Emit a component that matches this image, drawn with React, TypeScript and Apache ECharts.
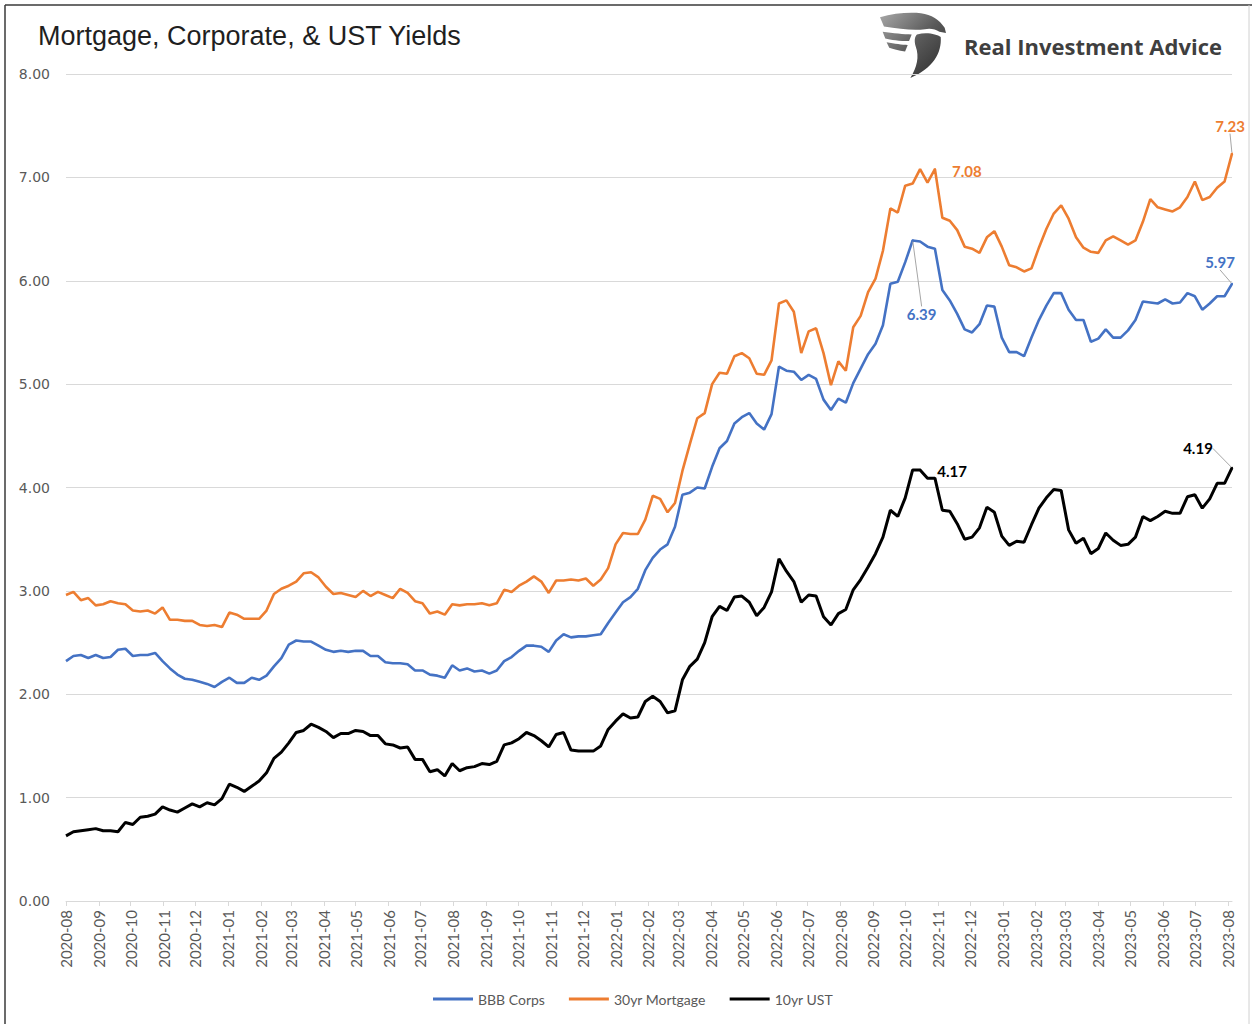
import React, { useEffect, useRef } from "react";
import * as echarts from "echarts";

// ---- Data (weekly, first week 2020-08-13) ----
const seriesNames = ["BBB Corps", "30yr Mortgage", "10yr UST"];

const bbbCorps = [
  2.32, 2.37, 2.38, 2.35, 2.38, 2.35, 2.36, 2.43, 2.44, 2.37, 2.38, 2.38, 2.40, 2.32, 2.25, 2.19, 2.15, 2.14, 2.12, 2.10,
  2.07, 2.12, 2.16, 2.11, 2.11, 2.16, 2.14, 2.18, 2.27, 2.35, 2.48, 2.52, 2.51, 2.51, 2.47, 2.43, 2.41, 2.42, 2.41, 2.42,
  2.42, 2.37, 2.37, 2.31, 2.30, 2.30, 2.29, 2.23, 2.23, 2.19, 2.18, 2.16, 2.28, 2.23, 2.25, 2.22, 2.23, 2.20, 2.23, 2.32,
  2.36, 2.42, 2.47, 2.47, 2.46, 2.41, 2.52, 2.58, 2.55, 2.56, 2.56, 2.57, 2.58, 2.69, 2.79, 2.89, 2.94, 3.02, 3.20, 3.32,
  3.40, 3.45, 3.62, 3.93, 3.95, 4.00, 3.99, 4.20, 4.38, 4.45, 4.62, 4.68, 4.72, 4.62, 4.56, 4.71, 5.17, 5.13, 5.12, 5.04,
  5.09, 5.05, 4.85, 4.75, 4.86, 4.82, 5.01, 5.15, 5.29, 5.39, 5.57, 5.97, 5.99, 6.18, 6.39, 6.38, 6.33, 6.31, 5.91, 5.81,
  5.68, 5.53, 5.50, 5.58, 5.76, 5.75, 5.45, 5.31, 5.31, 5.27, 5.45, 5.62, 5.76, 5.88, 5.88, 5.72, 5.62, 5.62, 5.41, 5.44,
  5.53, 5.45, 5.45, 5.52, 5.62, 5.80, 5.79, 5.78, 5.82, 5.78, 5.79, 5.88, 5.85, 5.72, 5.78, 5.85, 5.85, 5.97,
];

const mortgage30 = [
  2.96, 2.99, 2.91, 2.93, 2.86, 2.87, 2.90, 2.88, 2.87, 2.81, 2.80, 2.81, 2.78, 2.84, 2.72, 2.72, 2.71, 2.71, 2.67, 2.66,
  2.67, 2.65, 2.79, 2.77, 2.73, 2.73, 2.73, 2.81, 2.97, 3.02, 3.05, 3.09, 3.17, 3.18, 3.13, 3.04, 2.97, 2.98, 2.96, 2.94,
  3.00, 2.95, 2.99, 2.96, 2.93, 3.02, 2.98, 2.90, 2.88, 2.78, 2.80, 2.77, 2.87, 2.86, 2.87, 2.87, 2.88, 2.86, 2.88, 3.01,
  2.99, 3.05, 3.09, 3.14, 3.09, 2.98, 3.10, 3.10, 3.11, 3.10, 3.12, 3.05, 3.11, 3.22, 3.45, 3.56, 3.55, 3.55, 3.69, 3.92,
  3.89, 3.76, 3.85, 4.16, 4.42, 4.67, 4.72, 5.00, 5.11, 5.10, 5.27, 5.30, 5.25, 5.10, 5.09, 5.23, 5.78, 5.81, 5.70, 5.30,
  5.51, 5.54, 5.30, 4.99, 5.22, 5.13, 5.55, 5.66, 5.89, 6.02, 6.29, 6.70, 6.66, 6.92, 6.94, 7.08, 6.95, 7.08, 6.61, 6.58,
  6.49, 6.33, 6.31, 6.27, 6.42, 6.48, 6.33, 6.15, 6.13, 6.09, 6.12, 6.32, 6.50, 6.65, 6.73, 6.60, 6.42, 6.32, 6.28, 6.27,
  6.39, 6.43, 6.39, 6.35, 6.39, 6.57, 6.79, 6.71, 6.69, 6.67, 6.71, 6.81, 6.96, 6.78, 6.81, 6.90, 6.96, 7.23,
];

const ust10 = [
  0.63, 0.67, 0.68, 0.69, 0.70, 0.68, 0.68, 0.67, 0.76, 0.74, 0.81, 0.82, 0.84, 0.91, 0.88, 0.86, 0.90, 0.94, 0.91, 0.95,
  0.93, 0.99, 1.13, 1.10, 1.06, 1.11, 1.16, 1.24, 1.38, 1.44, 1.53, 1.63, 1.65, 1.71, 1.68, 1.64, 1.58, 1.62, 1.62, 1.65,
  1.64, 1.60, 1.60, 1.52, 1.51, 1.48, 1.49, 1.37, 1.37, 1.25, 1.27, 1.21, 1.33, 1.26, 1.29, 1.30, 1.33, 1.32, 1.35, 1.51,
  1.53, 1.57, 1.63, 1.60, 1.55, 1.49, 1.61, 1.63, 1.46, 1.45, 1.45, 1.45, 1.50, 1.66, 1.74, 1.81, 1.77, 1.78, 1.93, 1.98,
  1.93, 1.82, 1.84, 2.14, 2.27, 2.34, 2.50, 2.75, 2.85, 2.81, 2.94, 2.95, 2.89, 2.76, 2.84, 2.99, 3.31, 3.19, 3.09, 2.89,
  2.96, 2.95, 2.75, 2.67, 2.78, 2.82, 3.01, 3.11, 3.23, 3.36, 3.52, 3.78, 3.72, 3.90, 4.17, 4.17, 4.09, 4.09, 3.78, 3.77,
  3.65, 3.50, 3.52, 3.61, 3.81, 3.76, 3.53, 3.44, 3.48, 3.47, 3.64, 3.80, 3.90, 3.98, 3.97, 3.59, 3.46, 3.51, 3.36, 3.41,
  3.56, 3.49, 3.44, 3.45, 3.52, 3.72, 3.68, 3.72, 3.77, 3.75, 3.75, 3.91, 3.93, 3.80, 3.89, 4.04, 4.04, 4.19,
];

const yTicks = [0, 1, 2, 3, 4, 5, 6, 7, 8];
const monthTickCount = 37; // 2020-08 ... 2023-08

// x is measured in days since the first week (2020-08-13)
const DAY = 86400000;
const START_UTC = Date.UTC(2020, 7, 13);
const weekDays = bbbCorps.map((_, i) => 7 * i);
const monthTicks = Array.from({ length: monthTickCount }, (_, m) =>
  Math.round((Date.UTC(2020, 7 + m, 13) - START_UTC) / DAY)
);

const COLORS = { bbb: "#4472C4", mort: "#ED7D31", ust: "#000000" };

// value annotations: which series/point, label colour, offset of label centre from point
const annotations = [
  { data: mortgage30, index: 117, color: COLORS.mort, dx: 32, dy: 1, guide: false },
  { data: mortgage30, index: 157, color: COLORS.mort, dx: -2, dy: -28, guide: true },
  { data: bbbCorps, index: 114, color: COLORS.bbb, dx: 9, dy: 73, guide: true },
  { data: bbbCorps, index: 157, color: COLORS.bbb, dx: -12, dy: -22, guide: true },
  { data: ust10, index: 115, color: COLORS.ust, dx: 32, dy: 1, guide: false },
  { data: ust10, index: 157, color: COLORS.ust, dx: -34, dy: -20, guide: true },
];

const LOGO_PATH =
  "M0 8 C20 2 45 0 62 2 C78 4 90 12 98 24 L100 32 L90 30 C84 26 76 24 68 26 C52 28 30 26 6 22 Z " +
  "M4 30 C20 32 36 34 48 34 L44 44 C30 44 16 42 8 40 Z " +
  "M10 46 C22 48 34 50 42 50 L38 60 C28 58 20 56 14 54 Z " +
  "M56 34 C72 30 86 34 92 38 C94 62 80 86 46 100 C56 84 60 68 54 52 C52 44 52 38 56 34 Z";

let registered = false;
function ensureShape() {
  if (registered) return;
  echarts.graphic.registerShape("riaLogo", echarts.graphic.extendPath(LOGO_PATH, {}) as any);
  registered = true;
}

const fmtMonth = (days: number) => {
  const d = new Date(START_UTC + days * DAY);
  const m = d.getUTCMonth() + 1;
  return `${d.getUTCFullYear()}-${m < 10 ? "0" + m : m}`;
};

const LABEL_HALF_H = 9;

export default function App() {
  const ref = useRef<HTMLDivElement>(null);

  useEffect(() => {
    if (!ref.current) return;
    ensureShape();
    const chart = echarts.init(ref.current, undefined, { renderer: "svg" });

    const pair = (arr: number[]) => arr.map((v, i) => [weekDays[i], v]);

    const option: any = {
      animation: false,
      backgroundColor: "#ffffff",
      grid: { left: 66, right: 20, top: 74, bottom: 123, containLabel: false },
      xAxis: {
        type: "value",
        min: weekDays[0],
        max: weekDays[weekDays.length - 1],
        axisLine: { show: true, onZero: false, lineStyle: { color: "#D9D9D9", width: 1 } },
        axisTick: { show: true, length: 5, customValues: monthTicks, lineStyle: { color: "#D9D9D9" } },
        axisLabel: {
          customValues: monthTicks,
          rotate: 90,
          formatter: (v: number) => fmtMonth(v),
          fontFamily: "Lato",
          fontSize: 15,
          color: "#595959",
          margin: 9,
          hideOverlap: false,
          showMinLabel: true,
          showMaxLabel: true,
        },
        splitLine: { show: false },
      },
      yAxis: {
        type: "value",
        min: yTicks[0],
        max: yTicks[yTicks.length - 1],
        interval: 1,
        axisLine: { show: false },
        axisTick: { show: false },
        axisLabel: {
          formatter: (v: number) => v.toFixed(2),
          fontFamily: "DejaVu Sans",
          fontSize: 14,
          color: "#595959",
          margin: 16,
        },
        splitLine: { lineStyle: { color: "#D9D9D9", width: 1 } },
      },
      legend: {
        data: seriesNames,
        left: 428,
        top: 987,
        icon: "rect",
        itemWidth: 40,
        itemHeight: 3,
        itemGap: 24,
        textStyle: { fontFamily: "Lato", fontSize: 14, color: "#595959" },
      },
      series: [
        {
          name: seriesNames[0],
          type: "line",
          data: pair(bbbCorps),
          showSymbol: false,
          symbol: "none",
          lineStyle: { color: COLORS.bbb, width: 2.6 },
          itemStyle: { color: COLORS.bbb },
          z: 3,
        },
        {
          name: seriesNames[1],
          type: "line",
          data: pair(mortgage30),
          showSymbol: false,
          symbol: "none",
          lineStyle: { color: COLORS.mort, width: 2.6 },
          itemStyle: { color: COLORS.mort },
          z: 3,
        },
        {
          name: seriesNames[2],
          type: "line",
          data: pair(ust10),
          showSymbol: false,
          symbol: "none",
          lineStyle: { color: COLORS.ust, width: 3 },
          itemStyle: { color: COLORS.ust },
          z: 3,
        },
        {
          name: "annotations",
          type: "scatter",
          silent: true,
          symbol: "circle",
          symbolSize: 2,
          z: 5,
          data: annotations.map((a) => ({
            value: [weekDays[a.index], a.data[a.index]],
            itemStyle: { color: a.color, opacity: 1 },
            label: { color: a.color, fontWeight: 700 },
            labelLine: { show: a.guide },
          })),
          label: {
            show: true,
            position: "top",
            distance: 0,
            formatter: (p: any) => Number(p.value[1]).toFixed(2),
            fontFamily: "Lato",
            fontWeight: 700,
            fontSize: 15,
            opacity: 1,
            textBorderWidth: 0,
          },
          labelLine: { show: true, lineStyle: { color: "#A6A6A6", width: 1, opacity: 1 } },
          labelLayout: (params: any) => {
            const a = annotations[params.dataIndex];
            return { dx: a.dx, dy: a.dy + LABEL_HALF_H, hideOverlap: false };
          },
        },
      ],
      graphic: [
        { type: "line", shape: { x1: 5, y1: 5, x2: 1252, y2: 5 }, style: { stroke: "#3a3a3a", lineWidth: 1.5 } },
        { type: "line", shape: { x1: 5, y1: 5, x2: 5, y2: 1024 }, style: { stroke: "#3a3a3a", lineWidth: 1.5 } },
        { type: "line", shape: { x1: 1249, y1: 5, x2: 1249, y2: 1024 }, style: { stroke: "#d0d0d0", lineWidth: 1 } },
        {
          type: "text",
          x: 38,
          y: 36,
          style: {
            text: "Mortgage, Corporate, & UST Yields",
            font: '27px "Liberation Sans", Arial, sans-serif',
            fill: "#1f1f1f",
            verticalAlign: "middle",
          },
        },
        {
          type: "riaLogo",
          x: 880,
          y: 12,
          scaleX: 0.66,
          scaleY: 0.66,
          style: {
            fill: {
              type: "linear",
              x: 0,
              y: 0,
              x2: 1,
              y2: 1,
              colorStops: [
                { offset: 0, color: "#a8a8a8" },
                { offset: 0.5, color: "#5a5a5a" },
                { offset: 1, color: "#2a2a2a" },
              ],
            },
          },
        },
        {
          type: "text",
          x: 964,
          y: 46,
          style: {
            text: "Real Investment Advice",
            font: 'bold 22px "Open Sans", sans-serif',
            fill: "#3f3f3f",
            verticalAlign: "middle",
          },
        },
      ],
    };

    chart.setOption(option);
    return () => chart.dispose();
  }, []);

  return (
    <div
      ref={ref}
      style={{ position: "fixed", left: 0, top: 0, width: 1252, height: 1024, background: "#fff" }}
    />
  );
}
